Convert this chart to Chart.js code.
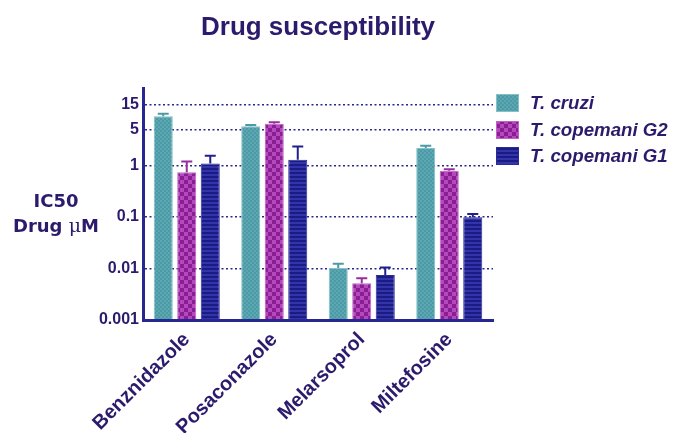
<!DOCTYPE html>
<html>
<head>
<meta charset="utf-8">
<title>Drug susceptibility</title>
<script src="https://cdn.jsdelivr.net/npm/chart.js@4.4.1/dist/chart.umd.min.js"></script>
<style>
  html, body { margin: 0; padding: 0; background: #ffffff; }
  #wrap { width: 674px; height: 433px; }
</style>
</head>
<body>
<div id="wrap"><canvas id="chart" width="674" height="433"></canvas></div>
<script>
// IC50 (µM) per drug, mean and upper error for each strain
const drugs = ['Benznidazole', 'Posaconazole', 'Melarsoprol', 'Miltefosine'];
const seriesNames = ['T. cruzi', 'T. copemani G2', 'T. copemani G1'];
const cruzi     = [9.0, 5.8, 0.0102, 2.2];
const cruziErr  = [1.1, 0.3, 0.0022, 0.22];
const g2        = [0.74, 6.5, 0.0052, 0.79];
const g2Err     = [0.46, 0.4, 0.0013, 0.06];
const g1        = [1.1, 1.3, 0.0075, 0.099];
const g1Err     = [0.45, 1.05, 0.003, 0.016];
const yTickValues = [0.001, 0.01, 0.1, 1, 5, 15];
const yTickLabels = ['0.001', '0.01', '0.1', '1', '5', '15'];

const INK = '#2c1b6c';
const AXIS = '#27278f';

// Fill textures for the bars
function makePattern(kind) {
  const c = document.createElement('canvas');
  const ctx = c.getContext('2d');
  if (kind === 'teal') {
    c.width = 4; c.height = 4;
    ctx.fillStyle = '#4c9aa5'; ctx.fillRect(0, 0, 4, 4);
    ctx.fillStyle = '#5ca8b2';
    ctx.fillRect(0, 0, 2, 2); ctx.fillRect(2, 2, 2, 2);
  } else if (kind === 'magenta') {
    c.width = 8; c.height = 8;
    ctx.fillStyle = '#8a1f93'; ctx.fillRect(0, 0, 8, 8);
    ctx.fillStyle = '#b548bc';
    ctx.fillRect(0, 0, 4, 4); ctx.fillRect(4, 4, 4, 4);
  } else {
    c.width = 4; c.height = 4;
    ctx.fillStyle = '#1b1b84'; ctx.fillRect(0, 0, 4, 4);
    ctx.fillStyle = '#3434aa'; ctx.fillRect(0, 2, 4, 2);
  }
  return document.getElementById('chart').getContext('2d').createPattern(c, 'repeat');
}

const fills = [makePattern('teal'), makePattern('magenta'), makePattern('navy')];
const borders = ['#86c0c8', '#c063c6', '#2a2a9a'];
const errColors = ['#4c9aa5', '#9a2ca1', '#20208c'];
const means = [cruzi, g2, g1];
const errs = [cruziErr, g2Err, g1Err];

const decor = {
  id: 'decor',
  afterDatasetsDraw(chart) {
    const ctx = chart.ctx;
    const y = chart.scales.y;
    ctx.save();
    ctx.lineWidth = 2;
    chart.data.datasets.forEach((ds, di) => {
      const meta = chart.getDatasetMeta(di);
      meta.data.forEach((bar, i) => {
        const top = y.getPixelForValue(means[di][i] + errs[di][i]);
        ctx.strokeStyle = errColors[di];
        ctx.beginPath();
        ctx.moveTo(bar.x, bar.y);
        ctx.lineTo(bar.x, top);
        ctx.moveTo(bar.x - 5.5, top);
        ctx.lineTo(bar.x + 5.5, top);
        ctx.stroke();
      });
    });
    ctx.restore();
  },
  afterDraw(chart) {
    const ctx = chart.ctx;
    ctx.save();
    ctx.fillStyle = INK;
    // Title
    ctx.font = 'bold 26px "Liberation Sans", Arial, sans-serif';
    ctx.textAlign = 'center';
    ctx.textBaseline = 'alphabetic';
    ctx.fillText('Drug susceptibility', 318, 35);
    // Y axis title
    ctx.font = 'bold 18px "DejaVu Sans", sans-serif';
    ctx.fillText('IC50', 56, 207);
    const boldF = 'bold 18px "DejaVu Sans", sans-serif';
    const muF = '19px "DejaVu Serif", serif';
    ctx.font = boldF; const wA = ctx.measureText('Drug ').width; const wM = ctx.measureText('M').width;
    ctx.font = muF; const wMu = ctx.measureText('\u03bc').width;
    let x = 56 - (wA + wMu + wM) / 2;
    ctx.textAlign = 'left';
    ctx.font = boldF; ctx.fillText('Drug ', x, 232); x += wA;
    ctx.font = muF; ctx.fillText('\u03bc', x, 232); x += wMu;
    ctx.font = boldF; ctx.fillText('M', x, 232);
    // Legend
    const rows = [103, 130, 156];
    ctx.font = 'italic bold 18.7px "Liberation Sans", Arial, sans-serif';
    ctx.textBaseline = 'middle';
    seriesNames.forEach((name, i) => {
      ctx.fillStyle = fills[i];
      ctx.fillRect(496, rows[i] - 9, 23, 18);
      ctx.strokeStyle = borders[i];
      ctx.lineWidth = 1;
      ctx.strokeRect(496.5, rows[i] - 8.5, 22, 17);
      ctx.fillStyle = INK;
      ctx.fillText(name, 530, rows[i] + 1);
    });
    ctx.restore();
  }
};

const datasets = seriesNames.map((name, i) => ({
  label: name,
  data: means[i],
  backgroundColor: fills[i],
  borderColor: borders[i],
  borderWidth: 1,
  categoryPercentage: 0.806,
  barPercentage: 0.81
}));

new Chart(document.getElementById('chart'), {
  type: 'bar',
  data: { labels: drugs, datasets },
  options: {
    responsive: false,
    animation: false,
    devicePixelRatio: 1,
    layout: { padding: { top: 88, right: 181, left: 0, bottom: 0 } },
    plugins: { legend: { display: false }, title: { display: false }, tooltip: { enabled: false } },
    scales: {
      x: {
        grid: { display: false, drawTicks: false },
        border: { display: true, color: AXIS, width: 3, z: 1 },
        ticks: {
          color: INK,
          font: { family: '"Liberation Sans", Arial, sans-serif', size: 20, weight: 'bold' },
          maxRotation: 45, minRotation: 45, padding: 8, autoSkip: false
        },
        afterFit(scale) { scale.height = 113; }
      },
      y: {
        type: 'logarithmic',
        min: 0.001,
        max: 32,
        afterBuildTicks(scale) { scale.ticks = yTickValues.map(v => ({ value: v })); },
        grid: { color: AXIS, lineWidth: 1.6, drawTicks: false },
        border: { display: true, color: AXIS, width: 3, z: 1, dash: [2, 2.5] },
        ticks: {
          color: INK,
          font: { family: '"Liberation Sans", Arial, sans-serif', size: 16, weight: 'bold' },
          padding: 4,
          autoSkip: false,
          callback(value) {
            const k = yTickValues.indexOf(value);
            return k >= 0 ? yTickLabels[k] : '';
          }
        },
        afterFit(scale) { scale.width = 143; }
      }
    }
  },
  plugins: [decor]
});
</script>
</body>
</html>
